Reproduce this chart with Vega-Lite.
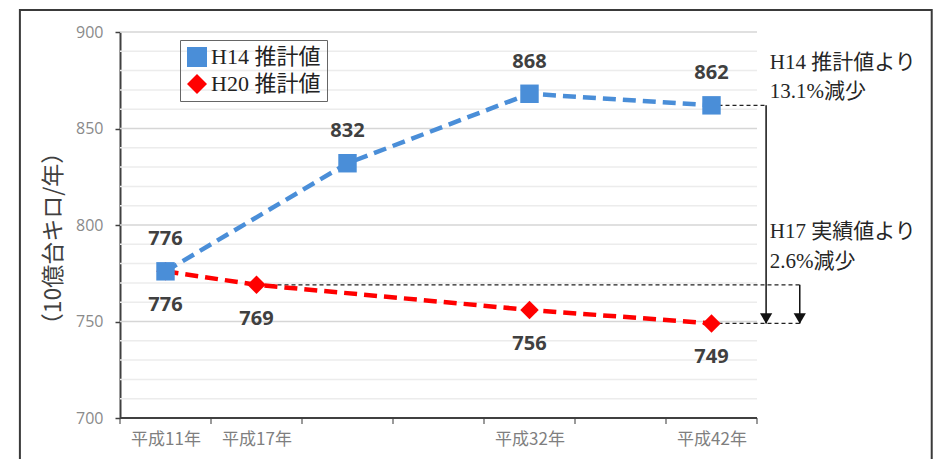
{
  "$schema": "https://vega.github.io/schema/vega-lite/v6.json",
  "width": 819,
  "height": 386,
  "autosize": "none",
  "padding": {"left": 120, "top": 32, "right": 12, "bottom": 41},
  "background": "white",
  "config": {"view": {"stroke": null}},
  "datasets": {
    "series": [
      {"s": "H20 推計値", "pos": 0.5, "v": 776},
      {"s": "H20 推計値", "pos": 1.5, "v": 769},
      {"s": "H20 推計値", "pos": 4.5, "v": 756},
      {"s": "H20 推計値", "pos": 6.5, "v": 749},
      {"s": "H14 推計値", "pos": 0.5, "v": 776},
      {"s": "H14 推計値", "pos": 2.5, "v": 832},
      {"s": "H14 推計値", "pos": 4.5, "v": 868},
      {"s": "H14 推計値", "pos": 6.5, "v": 862}
    ],
    "minorGrid": [
      {"y": 710}, {"y": 720}, {"y": 730}, {"y": 740}, {"y": 760}, {"y": 770}, {"y": 780}, {"y": 790},
      {"y": 810}, {"y": 820}, {"y": 830}, {"y": 840}, {"y": 860}, {"y": 870}, {"y": 880}, {"y": 890}
    ],
    "majorGrid": [{"y": 750}, {"y": 800}, {"y": 850}, {"y": 900}],
    "xTicks": [{"x": 0}, {"x": 1}, {"x": 2}, {"x": 3}, {"x": 4}, {"x": 5}, {"x": 6}, {"x": 7}],
    "frame": [{"x": -1.1, "x2": 8.92, "y": 911.4, "y2": 660}],
    "dashes": [
      {"x": 6.5, "x2": 7.1, "y": 862},
      {"x": 1.5, "x2": 7.47, "y": 769},
      {"x": 6.5, "x2": 7.47, "y": 749}
    ],
    "arrows": [
      {"x": 7.1, "y": 862, "y2": 749},
      {"x": 7.47, "y": 769, "y2": 749}
    ],
    "notes": [
      {"x": 7.14, "y": 883.9, "t": "H14 推計値より"},
      {"x": 7.14, "y": 869.0, "t": "13.1%減少"},
      {"x": 7.14, "y": 796.4, "t": "H17 実績値より"},
      {"x": 7.14, "y": 780.8, "t": "2.6%減少"}
    ]
  },
  "layer": [
    {
      "data": {"name": "frame"},
      "mark": {"type": "rect", "fill": null, "stroke": "#3a3a3a", "strokeWidth": 2},
      "encoding": {
        "x": {"field": "x", "type": "quantitative", "scale": {"domain": [0, 9], "nice": false, "zero": false},
              "axis": {"values": [0.5, 1.5, 4.5, 6.5], "domain": false, "ticks": false, "grid": false, "title": null,
                       "labelExpr": "datum.value == 0.5 ? '平成11年' : datum.value == 1.5 ? '平成17年' : datum.value == 4.5 ? '平成32年' : '平成42年'",
                       "labelFont": "Noto Sans CJK JP", "labelFontSize": 17, "labelColor": "#7f7f7f", "labelPadding": 13}},
        "x2": {"field": "x2"},
        "y": {"field": "y", "type": "quantitative", "scale": {"domain": [700, 900], "nice": false, "zero": false},
              "axis": {"values": [700, 750, 800, 850, 900], "grid": false, "domainColor": "#404040", "domainWidth": 2,
                       "tickColor": "#404040", "tickSize": 5, "tickWidth": 1.5, "labelColor": "#8a8a8a", "labelFont": "Open Sans",
                       "labelFontSize": 16, "labelPadding": 12,
                       "title": "（10億台キロ/年）", "titleFont": "Noto Sans CJK JP", "titleFontSize": 23, "titleFontWeight": "normal",
                       "titleColor": "#404040", "titlePadding": 10, "titleY": 206}},
        "y2": {"field": "y2"}
      }
    },
    {
      "data": {"name": "minorGrid"},
      "mark": {"type": "rule", "stroke": "#ececec", "strokeWidth": 1.5},
      "encoding": {"y": {"field": "y", "type": "quantitative"}, "x": {"datum": 0}, "x2": {"datum": 7}}
    },
    {
      "data": {"name": "majorGrid"},
      "mark": {"type": "rule", "stroke": "#d6d6d6", "strokeWidth": 1.5},
      "encoding": {"y": {"field": "y", "type": "quantitative"}, "x": {"datum": 0}, "x2": {"datum": 7}}
    },
    {
      "data": {"values": [{"y": 700}]},
      "mark": {"type": "rule", "stroke": "#404040", "strokeWidth": 2},
      "encoding": {"y": {"field": "y", "type": "quantitative"}, "x": {"datum": 0}, "x2": {"datum": 7}}
    },
    {
      "data": {"name": "xTicks"},
      "mark": {"type": "tick", "orient": "vertical", "size": 6, "thickness": 1.5, "color": "#404040", "yOffset": 3},
      "encoding": {"x": {"field": "x", "type": "quantitative"}, "y": {"datum": 700}}
    },
    {
      "data": {"name": "dashes"},
      "mark": {"type": "rule", "stroke": "#222", "strokeWidth": 1.2, "strokeDash": [4, 3]},
      "encoding": {"x": {"field": "x", "type": "quantitative"}, "x2": {"field": "x2"}, "y": {"field": "y", "type": "quantitative"}}
    },
    {
      "data": {"name": "arrows"},
      "mark": {"type": "rule", "stroke": "#111", "strokeWidth": 1.5},
      "encoding": {"x": {"field": "x", "type": "quantitative"}, "y": {"field": "y", "type": "quantitative"}, "y2": {"field": "y2"}}
    },
    {
      "data": {"name": "arrows"},
      "mark": {"type": "point", "shape": "triangle-down", "filled": true, "color": "#111", "size": 150, "opacity": 1, "yOffset": -5},
      "encoding": {"x": {"field": "x", "type": "quantitative"}, "y": {"field": "y2", "type": "quantitative"}}
    },
    {
      "data": {"name": "notes"},
      "mark": {"type": "text", "align": "left", "baseline": "middle", "font": "Liberation Serif, Noto Sans CJK JP", "fontSize": 21, "color": "#262626"},
      "encoding": {"x": {"field": "x", "type": "quantitative"}, "y": {"field": "y", "type": "quantitative"}, "text": {"field": "t"}}
    },
    {
      "data": {"name": "series"},
      "transform": [{"filter": "datum.s == 'H20 推計値'"}],
      "mark": {"type": "line", "stroke": "#ff0000", "strokeWidth": 4.5, "strokeDash": [13, 7]},
      "encoding": {"x": {"field": "pos", "type": "quantitative"}, "y": {"field": "v", "type": "quantitative"}}
    },
    {
      "data": {"name": "series"},
      "transform": [{"filter": "datum.s == 'H14 推計値'"}],
      "mark": {"type": "line", "stroke": "#4a8ed8", "strokeWidth": 4.5, "strokeDash": [13, 7]},
      "encoding": {"x": {"field": "pos", "type": "quantitative"}, "y": {"field": "v", "type": "quantitative"}}
    },
    {
      "data": {"name": "series"},
      "mark": {"type": "point", "filled": true, "opacity": 1, "size": 340, "strokeWidth": 0},
      "encoding": {
        "x": {"field": "pos", "type": "quantitative"},
        "y": {"field": "v", "type": "quantitative"},
        "color": {"field": "s", "type": "nominal",
                  "scale": {"domain": ["H14 推計値", "H20 推計値"], "range": ["#4a8ed8", "#ff0000"]},
                  "legend": {"title": null, "orient": "none", "legendX": 60, "legendY": 8,
                             "strokeColor": "#666", "padding": 6, "rowPadding": 5, "symbolSize": 400,
                             "labelFont": "Liberation Serif, Noto Sans CJK JP", "labelFontSize": 22, "labelColor": "#222",
                             "symbolStrokeWidth": 0, "labelOffset": 3}},
        "shape": {"field": "s", "type": "nominal",
                  "scale": {"domain": ["H14 推計値", "H20 推計値"], "range": ["square", "diamond"]},
                  "legend": {"title": null, "orient": "none", "legendX": 60, "legendY": 8}}
      }
    },
    {
      "data": {"name": "series"},
      "transform": [{"filter": "datum.s == 'H14 推計値'"}],
      "mark": {"type": "text", "font": "Open Sans", "fontWeight": "bold", "fontSize": 20, "color": "#404040", "dy": -32},
      "encoding": {"x": {"field": "pos", "type": "quantitative"}, "y": {"field": "v", "type": "quantitative"}, "text": {"field": "v"}}
    },
    {
      "data": {"name": "series"},
      "transform": [{"filter": "datum.s == 'H20 推計値'"}],
      "mark": {"type": "text", "font": "Open Sans", "fontWeight": "bold", "fontSize": 20, "color": "#404040", "dy": 34},
      "encoding": {"x": {"field": "pos", "type": "quantitative"}, "y": {"field": "v", "type": "quantitative"}, "text": {"field": "v"}}
    }
  ]
}
